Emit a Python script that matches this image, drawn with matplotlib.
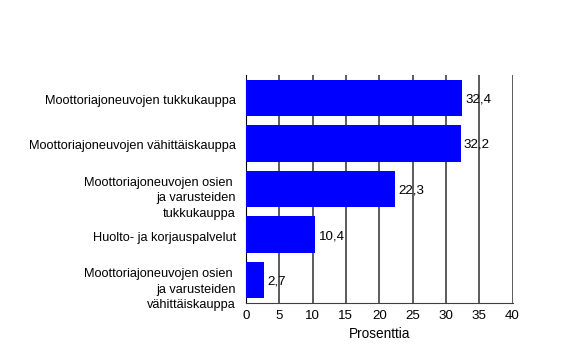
import matplotlib
matplotlib.use("Agg")
import matplotlib.pyplot as plt
from matplotlib.transforms import offset_copy

plt.rcParams['font.family'] = ['Liberation Sans', 'DejaVu Sans']

categories = [
    "Moottoriajoneuvojen tukkukauppa",
    "Moottoriajoneuvojen vähittäiskauppa",
    "Moottoriajoneuvojen osien \nja varusteiden\ntukkukauppa",
    "Huolto- ja korjauspalvelut",
    "Moottoriajoneuvojen osien \nja varusteiden\nvähittäiskauppa",
]
values = [32.4, 32.2, 22.3, 10.4, 2.7]
value_labels = ["32,4", "32,2", "22,3", "10,4", "2,7"]
xticks = [0, 5, 10, 15, 20, 25, 30, 35, 40]

fig = plt.figure(figsize=(5.65, 3.64), dpi=100)
ax = fig.add_axes([0.4354, 0.1676, 0.4717, 0.6264])

pos = list(range(len(categories)))
ax.barh(pos, values, height=0.8, color='#0000ff', zorder=3)
ax.set_ylim(len(categories) - 0.5, -0.5)
ax.set_xlim(0, 40)

for x in xticks[1:]:
    ax.axvline(x, color='#404040', lw=1.2, zorder=1)

for p, v, lab in zip(pos, values, value_labels):
    tr = offset_copy(ax.transData, fig=fig, x=0, y=-1.5, units='dots')
    ax.text(v + 0.5, p, lab, va='center', ha='left', fontsize=9.6,
            zorder=4, transform=tr)

# category labels, right aligned left of the axis
ax.set_yticks(pos)
ax.set_yticklabels([])
ax.tick_params(axis='y', length=0)
ytr = ax.get_yaxis_transform()
for p, cat in zip(pos, categories):
    dy = -9.5 if "\n" in cat else -3
    tr = offset_copy(ytr, fig=fig, x=-10, y=dy, units='dots')
    ax.text(0, p, cat, ha='right', va='center', fontsize=9.2,
            multialignment='right', linespacing=1.42, transform=tr)

ax.set_xticks(xticks)
ax.set_xticklabels([str(x) for x in xticks], fontsize=9.6)
ax.tick_params(axis='x', length=0, pad=5)
ax.set_xlabel("Prosenttia", fontsize=9.8, labelpad=4)

for s in ['top', 'right']:
    ax.spines[s].set_visible(False)
ax.spines['left'].set_color('black')
ax.spines['bottom'].set_color('#404040')

fig.savefig("out.png", dpi=100)
